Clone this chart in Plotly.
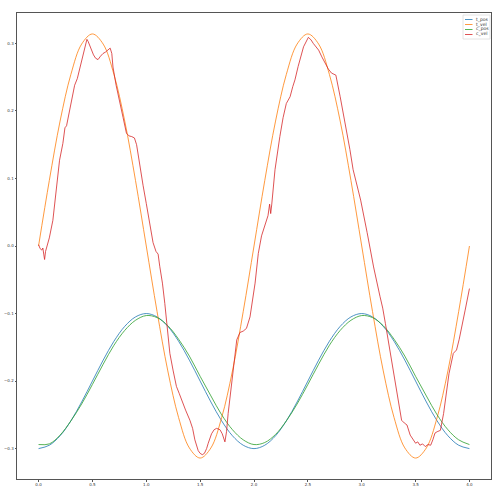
import plotly.graph_objects as go

# ---- data ----
t = [0.0, 0.1, 0.2, 0.3, 0.4, 0.5, 0.6, 0.7, 0.8, 0.9, 1.0,
     1.1, 1.2, 1.3, 1.4, 1.5, 1.6, 1.7, 1.8, 1.9, 2.0,
     2.1, 2.2, 2.3, 2.4, 2.5, 2.6, 2.7, 2.8, 2.9, 3.0,
     3.1, 3.2, 3.3, 3.4, 3.5, 3.6, 3.7, 3.8, 3.9, 4.0]

t_pos = [-0.300, -0.295, -0.281, -0.259, -0.231, -0.200, -0.169, -0.141, -0.119, -0.105, -0.100,
         -0.105, -0.119, -0.141, -0.169, -0.200, -0.231, -0.259, -0.281, -0.295, -0.300,
         -0.295, -0.281, -0.259, -0.231, -0.200, -0.169, -0.141, -0.119, -0.105, -0.100,
         -0.105, -0.119, -0.141, -0.169, -0.200, -0.231, -0.259, -0.281, -0.295, -0.300]

t_vel = [0.000, 0.097, 0.185, 0.254, 0.299, 0.314, 0.299, 0.254, 0.185, 0.097, 0.000,
         -0.097, -0.185, -0.254, -0.299, -0.314, -0.299, -0.254, -0.185, -0.097, 0.000,
         0.097, 0.185, 0.254, 0.299, 0.314, 0.299, 0.254, 0.185, 0.097, 0.000,
         -0.097, -0.185, -0.254, -0.299, -0.314, -0.299, -0.254, -0.185, -0.097, 0.000]

c_pos = [-0.294, -0.293, -0.280, -0.259, -0.234, -0.205, -0.175, -0.147, -0.125, -0.110, -0.103,
         -0.106, -0.118, -0.138, -0.163, -0.193, -0.222, -0.250, -0.272, -0.287, -0.294,
         -0.291, -0.279, -0.259, -0.234, -0.205, -0.175, -0.147, -0.125, -0.110, -0.103,
         -0.106, -0.118, -0.138, -0.163, -0.193, -0.222, -0.250, -0.272, -0.287, -0.294]

c_vel_t = [0.0, 0.015, 0.03, 0.04, 0.048, 0.056, 0.065, 0.08, 0.1, 0.133, 0.165, 0.195, 0.226,
           0.245, 0.26, 0.275, 0.304, 0.335, 0.36, 0.381, 0.412, 0.435, 0.449, 0.46, 0.475,
           0.49, 0.51, 0.53, 0.552, 0.575, 0.598, 0.62, 0.64, 0.665, 0.68, 0.691, 0.72, 0.753,
           0.785, 0.816, 0.84, 0.865, 0.89, 0.91, 0.94, 0.97, 1.0, 1.03, 1.063, 1.09, 1.11,
           1.125, 1.15, 1.172, 1.195, 1.219, 1.25, 1.28, 1.305, 1.327, 1.365, 1.405, 1.43,
           1.451, 1.482, 1.5, 1.52, 1.54, 1.56, 1.575, 1.606, 1.63, 1.653, 1.684, 1.705, 1.73,
           1.745, 1.76, 1.785, 1.81, 1.84, 1.87, 1.9, 1.93, 1.963, 2.01, 2.04, 2.07, 2.1, 2.13,
           2.145, 2.155, 2.165, 2.195, 2.24, 2.27, 2.3, 2.335, 2.36, 2.38, 2.41, 2.46, 2.505,
           2.53, 2.55, 2.6, 2.63, 2.66, 2.69, 2.72, 2.76, 2.8, 2.83, 2.86, 2.89, 2.92, 2.955,
           2.99, 3.05, 3.11, 3.17, 3.195, 3.22, 3.265, 3.3, 3.33, 3.37, 3.395, 3.42, 3.45,
           3.47, 3.5, 3.52, 3.54, 3.565, 3.59, 3.615, 3.64, 3.66, 3.68, 3.7, 3.73, 3.76, 3.81,
           3.85, 3.88, 3.905, 3.93, 3.96, 4.0]

c_vel = [0.002, -0.004, -0.006, -0.003, -0.012, -0.020, -0.008, 0.000, 0.012, 0.038, 0.085, 0.127, 0.152,
         0.175, 0.178, 0.190, 0.216, 0.238, 0.248, 0.261, 0.280, 0.298, 0.306, 0.303, 0.296,
         0.290, 0.283, 0.278, 0.276, 0.281, 0.285, 0.287, 0.290, 0.293, 0.285, 0.265, 0.238, 0.211,
         0.190, 0.167, 0.163, 0.162, 0.160, 0.150, 0.118, 0.090, 0.063, 0.035, 0.005, -0.008, -0.012,
         -0.030, -0.055, -0.085, -0.120, -0.159, -0.185, -0.208, -0.218, -0.228, -0.243, -0.258, -0.270,
         -0.287, -0.303, -0.307, -0.309, -0.307, -0.300, -0.292, -0.278, -0.272, -0.270, -0.272, -0.278, -0.290,
         -0.275, -0.248, -0.215, -0.184, -0.139, -0.128, -0.126, -0.122, -0.105, -0.055, -0.011, 0.015, 0.032, 0.045,
         0.062, 0.048, 0.062, 0.113, 0.162, 0.190, 0.211, 0.221, 0.236, 0.246, 0.266, 0.295, 0.309,
         0.305, 0.300, 0.290, 0.280, 0.270, 0.262, 0.256, 0.253, 0.221, 0.195, 0.172, 0.143, 0.113, 0.090,
         0.068, 0.020, -0.031, -0.075, -0.092, -0.115, -0.159, -0.192, -0.223, -0.258, -0.262, -0.265, -0.280,
         -0.285, -0.292, -0.290, -0.295, -0.293, -0.297, -0.294, -0.295, -0.287, -0.277, -0.275, -0.273, -0.248, -0.189,
         -0.159, -0.154, -0.138, -0.120, -0.095, -0.063]

x_ticks = [0.0, 0.5, 1.0, 1.5, 2.0, 2.5, 3.0, 3.5, 4.0]
y_ticks = [-0.3, -0.2, -0.1, 0.0, 0.1, 0.2, 0.3]
series_names = ["t_pos", "t_vel", "c_pos", "c_vel"]

# ---- styling ----
colors = ["#1f77b4", "#ff7f0e", "#2ca02c", "#d62728"]
W, H = 493, 487
L, R, T, B = 17, 2, 13, 8
FONT = "DejaVu Sans"
LW = 0.8

fig = go.Figure()
fig.add_trace(go.Scatter(x=t, y=t_pos, mode="lines", name=series_names[0],
                         line=dict(color=colors[0], width=LW, shape="spline")))
fig.add_trace(go.Scatter(x=t, y=t_vel, mode="lines", name=series_names[1],
                         line=dict(color=colors[1], width=LW, shape="spline")))
fig.add_trace(go.Scatter(x=t, y=c_pos, mode="lines", name=series_names[2],
                         line=dict(color=colors[2], width=LW, shape="spline")))
fig.add_trace(go.Scatter(x=c_vel_t, y=c_vel, mode="lines", name=series_names[3],
                         line=dict(color=colors[3], width=LW)))

axis_common = dict(showgrid=False, zeroline=False, showline=True, mirror=True,
                   linecolor="#555", linewidth=1, ticks="outside", ticklen=1.5,
                   tickwidth=0.8, tickcolor="#555", automargin=False,
                   tickfont=dict(size=4, color="#333", family=FONT))

fig.update_xaxes(range=[-0.2, 4.2], tickvals=x_ticks,
                 ticktext=[f"{v:.1f}" for v in x_ticks], **axis_common)
fig.update_yaxes(range=[-0.345, 0.345], tickvals=y_ticks,
                 ticktext=[f"{v:.1f}".replace("-", "\u2212") for v in y_ticks], **axis_common)

# manual compact legend (matplotlib style), positioned in pixels
pw, ph = W - L - R, H - T - B
def px(xp):
    return (xp - L) / pw
def py(yp):
    return (H - B - yp) / ph

fig.add_shape(type="rect", xref="paper", yref="paper",
              x0=px(463), x1=px(490), y0=py(39), y1=py(15),
              line=dict(color="#dddddd", width=0.8), fillcolor="rgba(255,255,255,0.8)")
for i, name in enumerate(series_names):
    yy = 19.5 + i * 5.0
    fig.add_shape(type="line", xref="paper", yref="paper",
                  x0=px(465), x1=px(472.5), y0=py(yy), y1=py(yy),
                  line=dict(color=colors[i], width=LW))
    fig.add_annotation(x=px(474), y=py(yy), xref="paper", yref="paper",
                       text=name, showarrow=False, xanchor="left", yanchor="middle",
                       font=dict(size=4.5, color="#333", family=FONT))

fig.update_layout(width=W, height=H, margin=dict(l=L, r=R, t=T, b=B, autoexpand=False),
                  paper_bgcolor="white", plot_bgcolor="white", showlegend=False,
                  font=dict(family=FONT))

fig.write_html("out.html", config={"displayModeBar": False},
               post_script="document.body.style.margin='0';document.body.style.padding='0';document.body.style.overflow='hidden';")
